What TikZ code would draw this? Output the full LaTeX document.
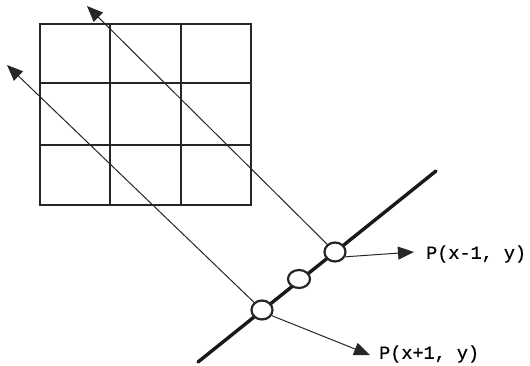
\documentclass[tikz,border=0pt]{standalone}
\usepackage{fontspec}
\setmainfont[FakeBold=0.6]{Liberation Mono}
\usetikzlibrary{arrows.meta,shapes.geometric}
\tikzset{
  gridline/.style={line width=1.2pt,black!85},
  ray/.style={line width=1pt,black!85},
  tipray/.style={ray,-{Triangle[length=16pt,width=13pt]}},
  scan/.style={line width=3.4pt,black!90,line cap=round},
  pixel/.style={draw=black!85,line width=2.2pt,fill=white,ellipse,inner sep=0pt},
  lab/.style={font=\fontsize{18.5}{19}\selectfont,anchor=west,inner sep=0pt,black}
}
\begin{document}
\begin{tikzpicture}[x=1pt,y=-1pt]
\useasboundingbox (0,0) rectangle (530,366);
\draw[gridline] (40,24) rectangle (251,205);
\draw[gridline] (110,24) -- (110,205);
\draw[gridline] (181,24) -- (181,205);
\draw[gridline] (40,83) -- (251,83);
\draw[gridline] (40,145) -- (251,145);
\coordinate (sa) at (198,362);
\coordinate (sb) at (436,171);
\draw[scan] (sa) -- (sb);
\coordinate (ta) at (87,6);
\coordinate (tb) at (7,65);
\node[pixel,minimum width=21pt,minimum height=19pt] (p1) at (335,252) {};
\node[pixel,minimum width=22pt,minimum height=18pt] (p0) at (299,279) {};
\node[pixel,minimum width=21pt,minimum height=19pt] (p2) at (262,310) {};
\draw[tipray] (p1) -- (ta);
\draw[tipray] (p2) -- (tb);
\node[lab] (l1) at (426,254) {P(x-1, y)};
\node[lab] (l2) at (379,354) {P(x+1, y)};
\draw[tipray] (p1.-25) -- (414,252);
\draw[tipray] (p2.-30) -- (370,355);
\end{tikzpicture}
\end{document}
